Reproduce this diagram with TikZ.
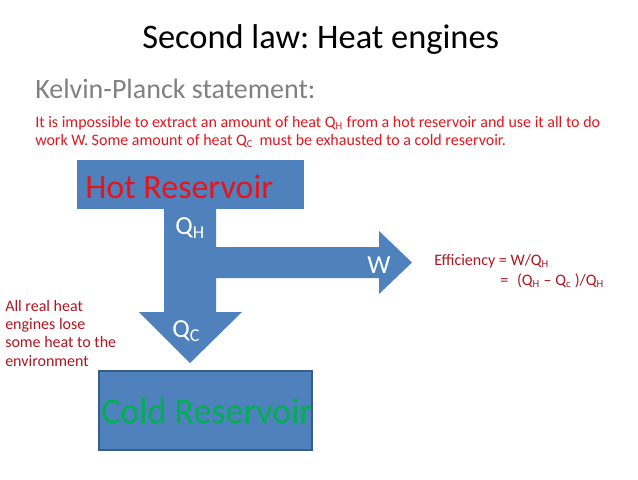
\documentclass[tikz,border=0pt]{standalone}
\usepackage{fontspec}
\setmainfont{Carlito}
\frenchspacing
\definecolor{flowblue}{HTML}{4F81BD}
\definecolor{edgeblue}{HTML}{385D8A}
\definecolor{hotred}{HTML}{E8141C}
\definecolor{notered}{HTML}{B4141E}
\definecolor{coldgreen}{HTML}{00B050}
\definecolor{subgray}{HTML}{808080}

\begin{document}
\begin{tikzpicture}[x=0.75pt,y=-0.75pt,line join=miter,
    txt/.style={anchor=base west,inner sep=0pt},
    big/.style={txt,font=\fontsize{25.5pt}{30pt}\selectfont},
    flowlbl/.style={txt,text=white,font=\fontsize{19.5pt}{23pt}\selectfont},
    small/.style={txt,font=\fontsize{12pt}{14pt}\selectfont}]
  \path[use as bounding box] (0,0) rectangle (638,479);   % canvas 638x479 px, 1 unit = 1 px
  % ---- corner points (px) ----
  \coordinate (HTL) at ( 77,160);   % hot box
  \coordinate (HBR) at (304,209);
  \coordinate (CTL) at ( 99,371);   % cold box
  \coordinate (CBR) at (312,450);
  \coordinate (WTIP) at (412,262.5); % tip of W arrow
  \coordinate (CTIP) at (190,363);   % tip of Q_C arrow
  % ---- shapes ----
  % T-shaped flow: stem 164..216, branch 247..278
  \fill[flowblue] (164,205) -- (216,205) -- (216,247) -- (379,247) -- (379,231)
    -- (WTIP) -- (379,294) -- (379,278) -- (216,278) -- (216,312) -- (242,312)
    -- (CTIP) -- (139,312) -- (164,312) -- cycle;
  \fill[flowblue] (HTL) rectangle (HBR);                       % hot reservoir
  \filldraw[fill=flowblue,draw=edgeblue,line width=1.5pt] (CTL) rectangle (CBR); % cold reservoir
  % ---- headings ----
  \node[txt,font=\fontsize{25.8pt}{30pt}\selectfont] (title) at (142,48) {Second law: Heat engines};
  \node[txt,text=subgray,font=\fontsize{21pt}{25pt}\selectfont] (kp) at (35,98) {Kelvin-Planck statement:};
  \node[small,text=hotred] (stmt1) at (35,127)
    {It is impossible to extract an amount of heat Q\textsubscript{H} from a hot reservoir and use it all to do};
  \node[small,text=hotred] (stmt2) at (35,145)
    {work W. Some amount of heat Q\textsubscript{C}\, must be exhausted to a cold reservoir.};
  % ---- box and flow labels ----
  \node[big,text=hotred] (hot) at (85,198) {Hot Reservoir};
  \node[big,text=coldgreen,font=\fontsize{27pt}{32pt}\selectfont] (cold) at (101,423) {Cold Reservoir};
  \node[flowlbl] (qh) at (175,234) {Q\textsubscript{H}};
  \node[flowlbl] (w) at (367,273) {W};
  \node[flowlbl] (qc) at (172,337) {Q\textsubscript{C}};
  % ---- side notes ----
  \node[small,text=notered] (eff1) at (434,265) {Efficiency = W/Q\textsubscript{H}};
  \node[small,text=notered] (eff2) at (500,285) {=\;\;(Q\textsubscript{H} -- Q\textsubscript{c} )/Q\textsubscript{H}};
  \node[small,text=notered] (loss1) at (5,311) {All real heat};
  \node[small,text=notered] (loss2) at (5,329) {engines lose};
  \node[small,text=notered] (loss3) at (5,347) {some heat to the};
  \node[small,text=notered] (loss4) at (5,366) {environment};
\end{tikzpicture}
\end{document}
